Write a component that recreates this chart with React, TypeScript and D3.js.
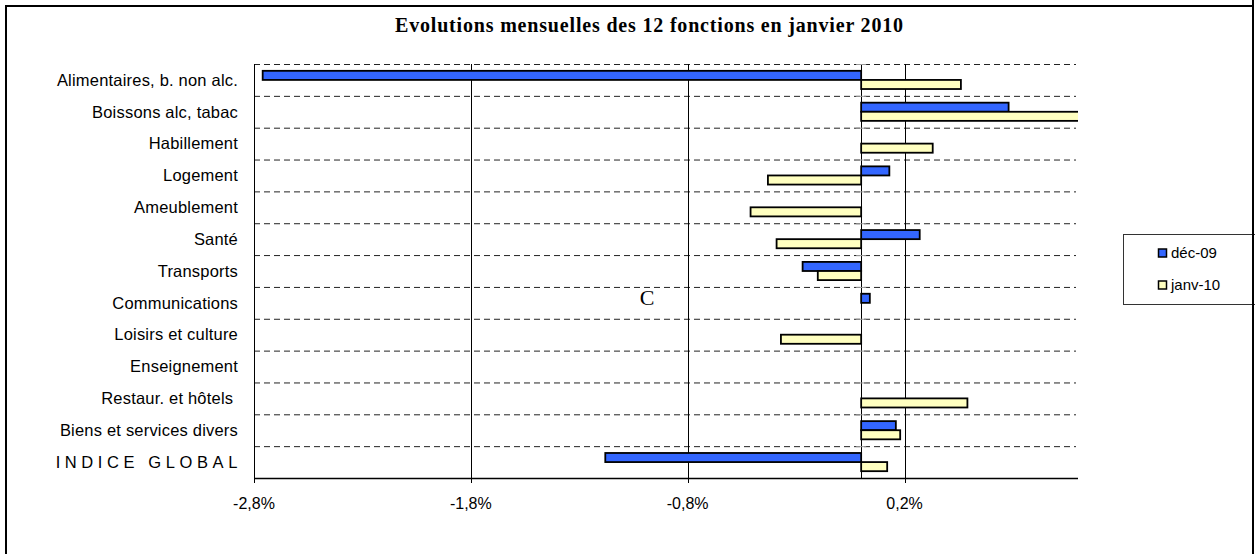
import React from "react";
import * as d3 from "d3";

const categories = [
  "Alimentaires, b. non alc.",
  "Boissons alc, tabac",
  "Habillement",
  "Logement",
  "Ameublement",
  "Santé",
  "Transports",
  "Communications",
  "Loisirs et culture",
  "Enseignement",
  "Restaur. et hôtels ",
  "Biens et services divers",
  "INDICE GLOBAL",
];
const dec09: (number | null)[] = [-2.76, 0.68, null, 0.13, null, 0.27, -0.27, 0.04, null, null, null, 0.16, -1.18];
const janv10: (number | null)[] = [0.46, 1.2, 0.33, -0.43, -0.51, -0.39, -0.2, null, -0.37, null, 0.49, 0.18, 0.12];
const seriesNames = ["déc-09", "janv-10"];
const tickValues = [-2.8, -1.8, -0.8, 0.2];
const title = "Evolutions mensuelles des 12 fonctions en janvier 2010";

const W = 1255;
const H = 554;
const plot = { left: 254, right: 1078, top: 64, bottom: 478 };
const colors = ["#3366FF", "#FFFFC0"];
const sans = "'Liberation Sans', Arial, sans-serif";
const serif = "'Liberation Serif', 'Times New Roman', serif";

export default function App() {
  const x = d3.scaleLinear().domain([-2.8, 1.0]).range([plot.left, plot.right]);
  const y = d3.scaleBand<string>().domain(categories).range([plot.top, plot.bottom]).paddingInner(0).paddingOuter(0);
  const band = y.bandwidth();
  const gap = 1.5;
  const barH = band / (2 + gap);
  const x0 = x(0);
  const fmt = (v: number) => d3.format(".1f")(v).replace(".", ",").replace("−", "-") + "%";
  const series = [dec09, janv10];

  return (
    <svg width={W} height={H} style={{ position: "absolute", left: 0, top: 0, background: "#fff" }}>
      <defs>
        <clipPath id="plotclip">
          <rect x={plot.left} y={plot.top} width={plot.right - plot.left} height={plot.bottom - plot.top} />
        </clipPath>
      </defs>
      <rect x={6} y={6} width={1247} height={H + 10} fill="#fff" stroke="#000" strokeWidth={2} />
      <text x={649} y={32} textAnchor="middle" fontFamily={serif} fontWeight="bold" fontSize={20} textLength={508} lengthAdjust="spacing">
        {title}
      </text>

      {/* dashed category gridlines */}
      {categories.map((c) => (
        <line key={"g" + c} x1={plot.left} x2={plot.right - 2} y1={(y(c) as number) + 0.5} y2={(y(c) as number) + 0.5} stroke="#222" strokeWidth={1} strokeDasharray="6,4" />
      ))}
      {/* vertical gridlines */}
      {tickValues.map((t) => (
        <line key={"v" + t} x1={Math.round(x(t)) + 0.5} x2={Math.round(x(t)) + 0.5} y1={plot.top} y2={plot.bottom + 5} stroke="#000" strokeWidth={1} />
      ))}
      {/* bottom axis */}
      <line x1={plot.left} x2={plot.right} y1={plot.bottom + 0.5} y2={plot.bottom + 0.5} stroke="#000" strokeWidth={1.5} />
      {/* zero axis */}
      <line x1={Math.round(x0) + 0.5} x2={Math.round(x0) + 0.5} y1={plot.top} y2={plot.bottom} stroke="#000" strokeWidth={1} />
      {categories.map((c) => (
        <line key={"t" + c} x1={x0 - 5} x2={x0 + 5} y1={(y(c) as number) + 0.5} y2={(y(c) as number) + 0.5} stroke="#999" strokeWidth={1} />
      ))}

      {/* bars */}
      <g clipPath="url(#plotclip)">
        {series.map((vals, si) =>
          vals.map((v, i) => {
            if (v === null) return null;
            const c = categories[i];
            const top = (y(c) as number) + (gap * barH) / 2 + si * barH;
            const xa = Math.min(x(v), x0);
            const xb = Math.max(x(v), x0);
            return (
              <rect key={si + "-" + i} x={xa} y={top} width={xb - xa} height={barH} fill={colors[si]} stroke="#000" strokeWidth={1.8} />
            );
          })
        )}
      </g>

      {/* category labels */}
      {categories.map((c) => (
        <text
          key={"l" + c}
          x={c === "INDICE GLOBAL" ? 242 : 238}
          y={(y(c) as number) + band / 2}
          dy="0.35em"
          textAnchor="end"
          fontFamily={sans}
          fontSize={16.5}
          letterSpacing={c === "INDICE GLOBAL" ? 4.6 : 0.2}
          style={{ whiteSpace: "pre" }}
        >
          {c}
        </text>
      ))}

      {/* tick labels */}
      {tickValues.map((t) => (
        <text key={"tl" + t} x={x(t)} y={503} dy="0.35em" textAnchor="middle" fontFamily={sans} fontSize={16}>
          {fmt(t)}
        </text>
      ))}

      <text x={647} y={305} textAnchor="middle" fontFamily={serif} fontSize={22}>C</text>

      {/* legend */}
      <rect x={1123.5} y={234.5} width={140} height={70} fill="#fff" stroke="#333" strokeWidth={1} />
      {seriesNames.map((s, i) => (
        <g key={s}>
          <rect x={1158.5} y={249 + i * 32} width={8} height={8} fill={colors[i]} stroke="#000" strokeWidth={1.5} />
          <text x={1171} y={253 + i * 32} dy="0.35em" fontFamily={sans} fontSize={15}>{s}</text>
        </g>
      ))}
      <line x1={1253} x2={1253} y1={0} y2={H} stroke="#000" strokeWidth={2} />
    </svg>
  );
}
